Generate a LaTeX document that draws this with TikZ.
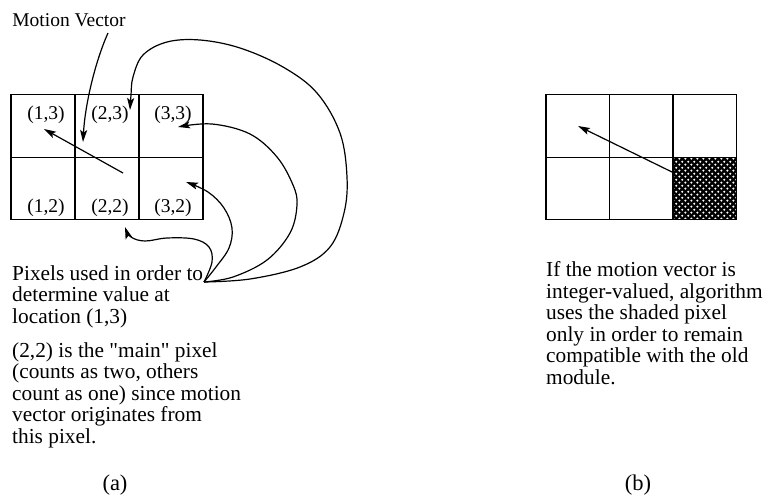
\documentclass[tikz,border=0pt]{standalone}
\usepackage{fontspec}
\setmainfont{Liberation Serif}[Ligatures=TeXOff]
\usetikzlibrary{arrows.meta,patterns}
\pgfdeclarepatternformonly{wdots}{\pgfqpoint{0pt}{0pt}}{\pgfqpoint{5.8pt}{5.8pt}}{\pgfqpoint{5.8pt}{5.8pt}}{%
  \pgfpathcircle{\pgfqpoint{1.45pt}{1.45pt}}{1.2pt}%
  \pgfpathcircle{\pgfqpoint{4.35pt}{4.35pt}}{1.2pt}%
  \pgfusepath{fill}}
\begin{document}
\begin{tikzpicture}[x=1pt,y=-1pt,
  cell/.style={draw,line width=1.3pt,minimum width=64pt,minimum height=62.5pt,inner sep=0pt,outer sep=0pt},
  cellb/.style={cell,minimum width=63.5pt},
  lab/.style={font=\fontsize{19.5}{21}\selectfont,inner sep=0pt},
  body/.style={font=\fontsize{21.35}{21.5}\selectfont,align=left,inner sep=0pt,anchor=north west},
  captext/.style={font=\fontsize{22.5}{24}\selectfont,inner sep=0pt,anchor=base},
  arr/.style={line width=1.2pt,-{Stealth[length=12pt,width=7pt,inset=2.5pt]}}]
\useasboundingbox (0,0) rectangle (771,498);

% grid (a)
\node[cell] (a13) at (43,126) {};
\node[cell] (a23) at (107,126) {};
\node[cell] (a33) at (171,126) {};
\node[cell] (a12) at (43,188.5) {};
\node[cell] (a22) at (107,188.5) {};
\node[cell] (a32) at (171,188.5) {};

\node[lab] (l13) at (46,115) {(1,3)};
\node[lab] (l23) at (110,115) {(2,3)};
\node[lab] (l33) at (173,115) {(3,3)};
\node[lab] (l12) at (46,208) {(1,2)};
\node[lab] (l22) at (110,208) {(2,2)};
\node[lab] (l32) at (173,208) {(3,2)};

% motion vector (a)
\coordinate (mva0) at (123,173);
\coordinate (mva1) at (44,129);
\draw[arr] (mva0) -- (mva1);

% motion vector label
\node[lab,anchor=base] (mvlab) at (69,26) {Motion Vector};
\coordinate (mvs) at (108,33);
\coordinate (mvt) at (83,142);
\draw[arr] (mvs) .. controls (95,62) and (85,105) .. (mvt);

% source of the pixel arrows
\coordinate (src) at (204,282);
\coordinate (t22) at (125,227);
\coordinate (t32) at (186,182);
\coordinate (t33) at (178,127);
\coordinate (t23) at (130,110);

\draw[arr] plot[smooth,tension=0.6] coordinates {(src) (212,262) (209,247) (194,239) (167,238) (145,241) (131,237) (t22)};
\draw[arr] plot[smooth,tension=0.6] coordinates {(src) (216,267) (229,248) (232,228) (224,208) (208,192) (t32)};
\draw[arr] plot[smooth,tension=0.6] coordinates {(src) (233,277) (267,260) (290,233) (297,205) (293,185) (277,157) (250,134) (212,124) (t33)};
\draw[arr] plot[smooth,tension=0.6] coordinates {(src) (250,279) (300,267) (330,247) (344,213) (347,177) (340,133) (317,93) (283,67) (240,48) (200,40) (167,42) (143,55) (133,77) (131,95) (t23)};

% texts (a)
\node[body] (ta1) at (12,265.4) {Pixels used in order to\\determine value at\\location (1,3)};
\node[body] (ta2) at (12,342.2) {(2,2) is the "main" pixel\\(counts as two, others\\count as one) since motion\\vector originates from\\this pixel.};
\node[captext] (capa) at (115,490) {(a)};

% grid (b)
\node[cellb] (b13) at (577.75,126) {};
\node[cellb] (b23) at (641.25,126) {};
\node[cellb] (b33) at (704.75,126) {};
\node[cellb] (b12) at (577.75,188.5) {};
\node[cellb] (b22) at (641.25,188.5) {};
\fill[black] (673,157.25) rectangle (736.5,219.75);
\fill[pattern=wdots,pattern color=white] (673,157.25) rectangle (736.5,219.75);
\node[cellb] (b32) at (704.75,188.5) {};

\coordinate (mvb0) at (672,172);
\coordinate (mvb1) at (578,126);
\draw[arr] (mvb0) -- (mvb1);

\node[body] (tb) at (546,261.4) {If the motion vector is\\integer-valued, algorithm\\uses the shaded pixel\\only in order to remain\\compatible with the old\\module.};
\node[captext] (capb) at (638,490) {(b)};
\end{tikzpicture}
\end{document}
